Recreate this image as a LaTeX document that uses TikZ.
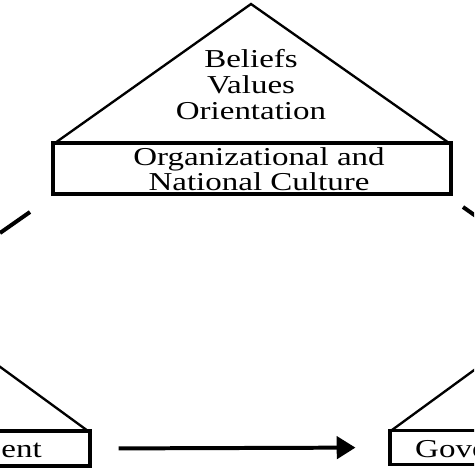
\documentclass[tikz,border=0pt]{standalone}
\usepackage{fontspec}
\setmainfont{Liberation Serif}
\usepackage{graphicx}
\usetikzlibrary{arrows.meta,positioning}

\newcommand{\wide}[1]{\scalebox{1.28}[1]{#1}}

\begin{document}
\begin{tikzpicture}[>=Stealth, x=0.03cm, y=-0.03cm,
  side/.style={line width=2pt, line join=miter},
  box/.style={draw, line width=2.6pt, inner sep=0pt},
  label/.style={inner sep=0pt, font=\fontsize{22}{22.5}\selectfont},
  link/.style={line width=3.4pt}]
  \useasboundingbox (0,0) rectangle (474,474);
  \clip (0,0) rectangle (474,474);
  % culture roof
  \draw[side] (55,143) -- (251,4) -- (449,143);
  \node[label, anchor=base] (values) at (251,67)
    {\wide{\begin{tabular}[t]{@{}c@{}}Beliefs\\Values\\Orientation\end{tabular}}};
  \node[box, minimum width=11.94cm, minimum height=1.53cm] (culture) at (252,168.5) {};
  \node[label, anchor=base, font=\fontsize{22}{20.5}\selectfont] (culturetxt) at (259,165)
    {\wide{\begin{tabular}[t]{@{}c@{}}Organizational and\\National Culture\end{tabular}}};
  % left pyramid
  \draw[side] (88,431) -- (-60,323);
  \node[box, minimum width=7.2cm, minimum height=1.05cm] (leftbox) at (-30,448.5) {};
  \node[label, anchor=base east] (lefttxt) at (42,457) {\wide{ent}};
  % right pyramid
  \draw[side] (392,430) -- (540,322);
  \node[box, minimum width=7.2cm, minimum height=1.02cm] (rightbox) at (510,447.5) {};
  \node[label, anchor=base west] (righttxt) at (415,457) {\wide{Gove}};
  % connectors
  \draw[link, -{Triangle[length=16pt,width=19pt]}, shorten <=0.81cm, shorten >=0.99cm]
    (leftbox.east) -- (rightbox.west);
  \coordinate (stubL1) at (0,233);
  \coordinate (stubL2) at (30,212);
  \coordinate (stubR1) at (463,207);
  \coordinate (stubR2) at (480,219);
  \draw[link] (stubL1) -- (stubL2);
  \draw[link] (stubR1) -- (stubR2);
\end{tikzpicture}
\end{document}
